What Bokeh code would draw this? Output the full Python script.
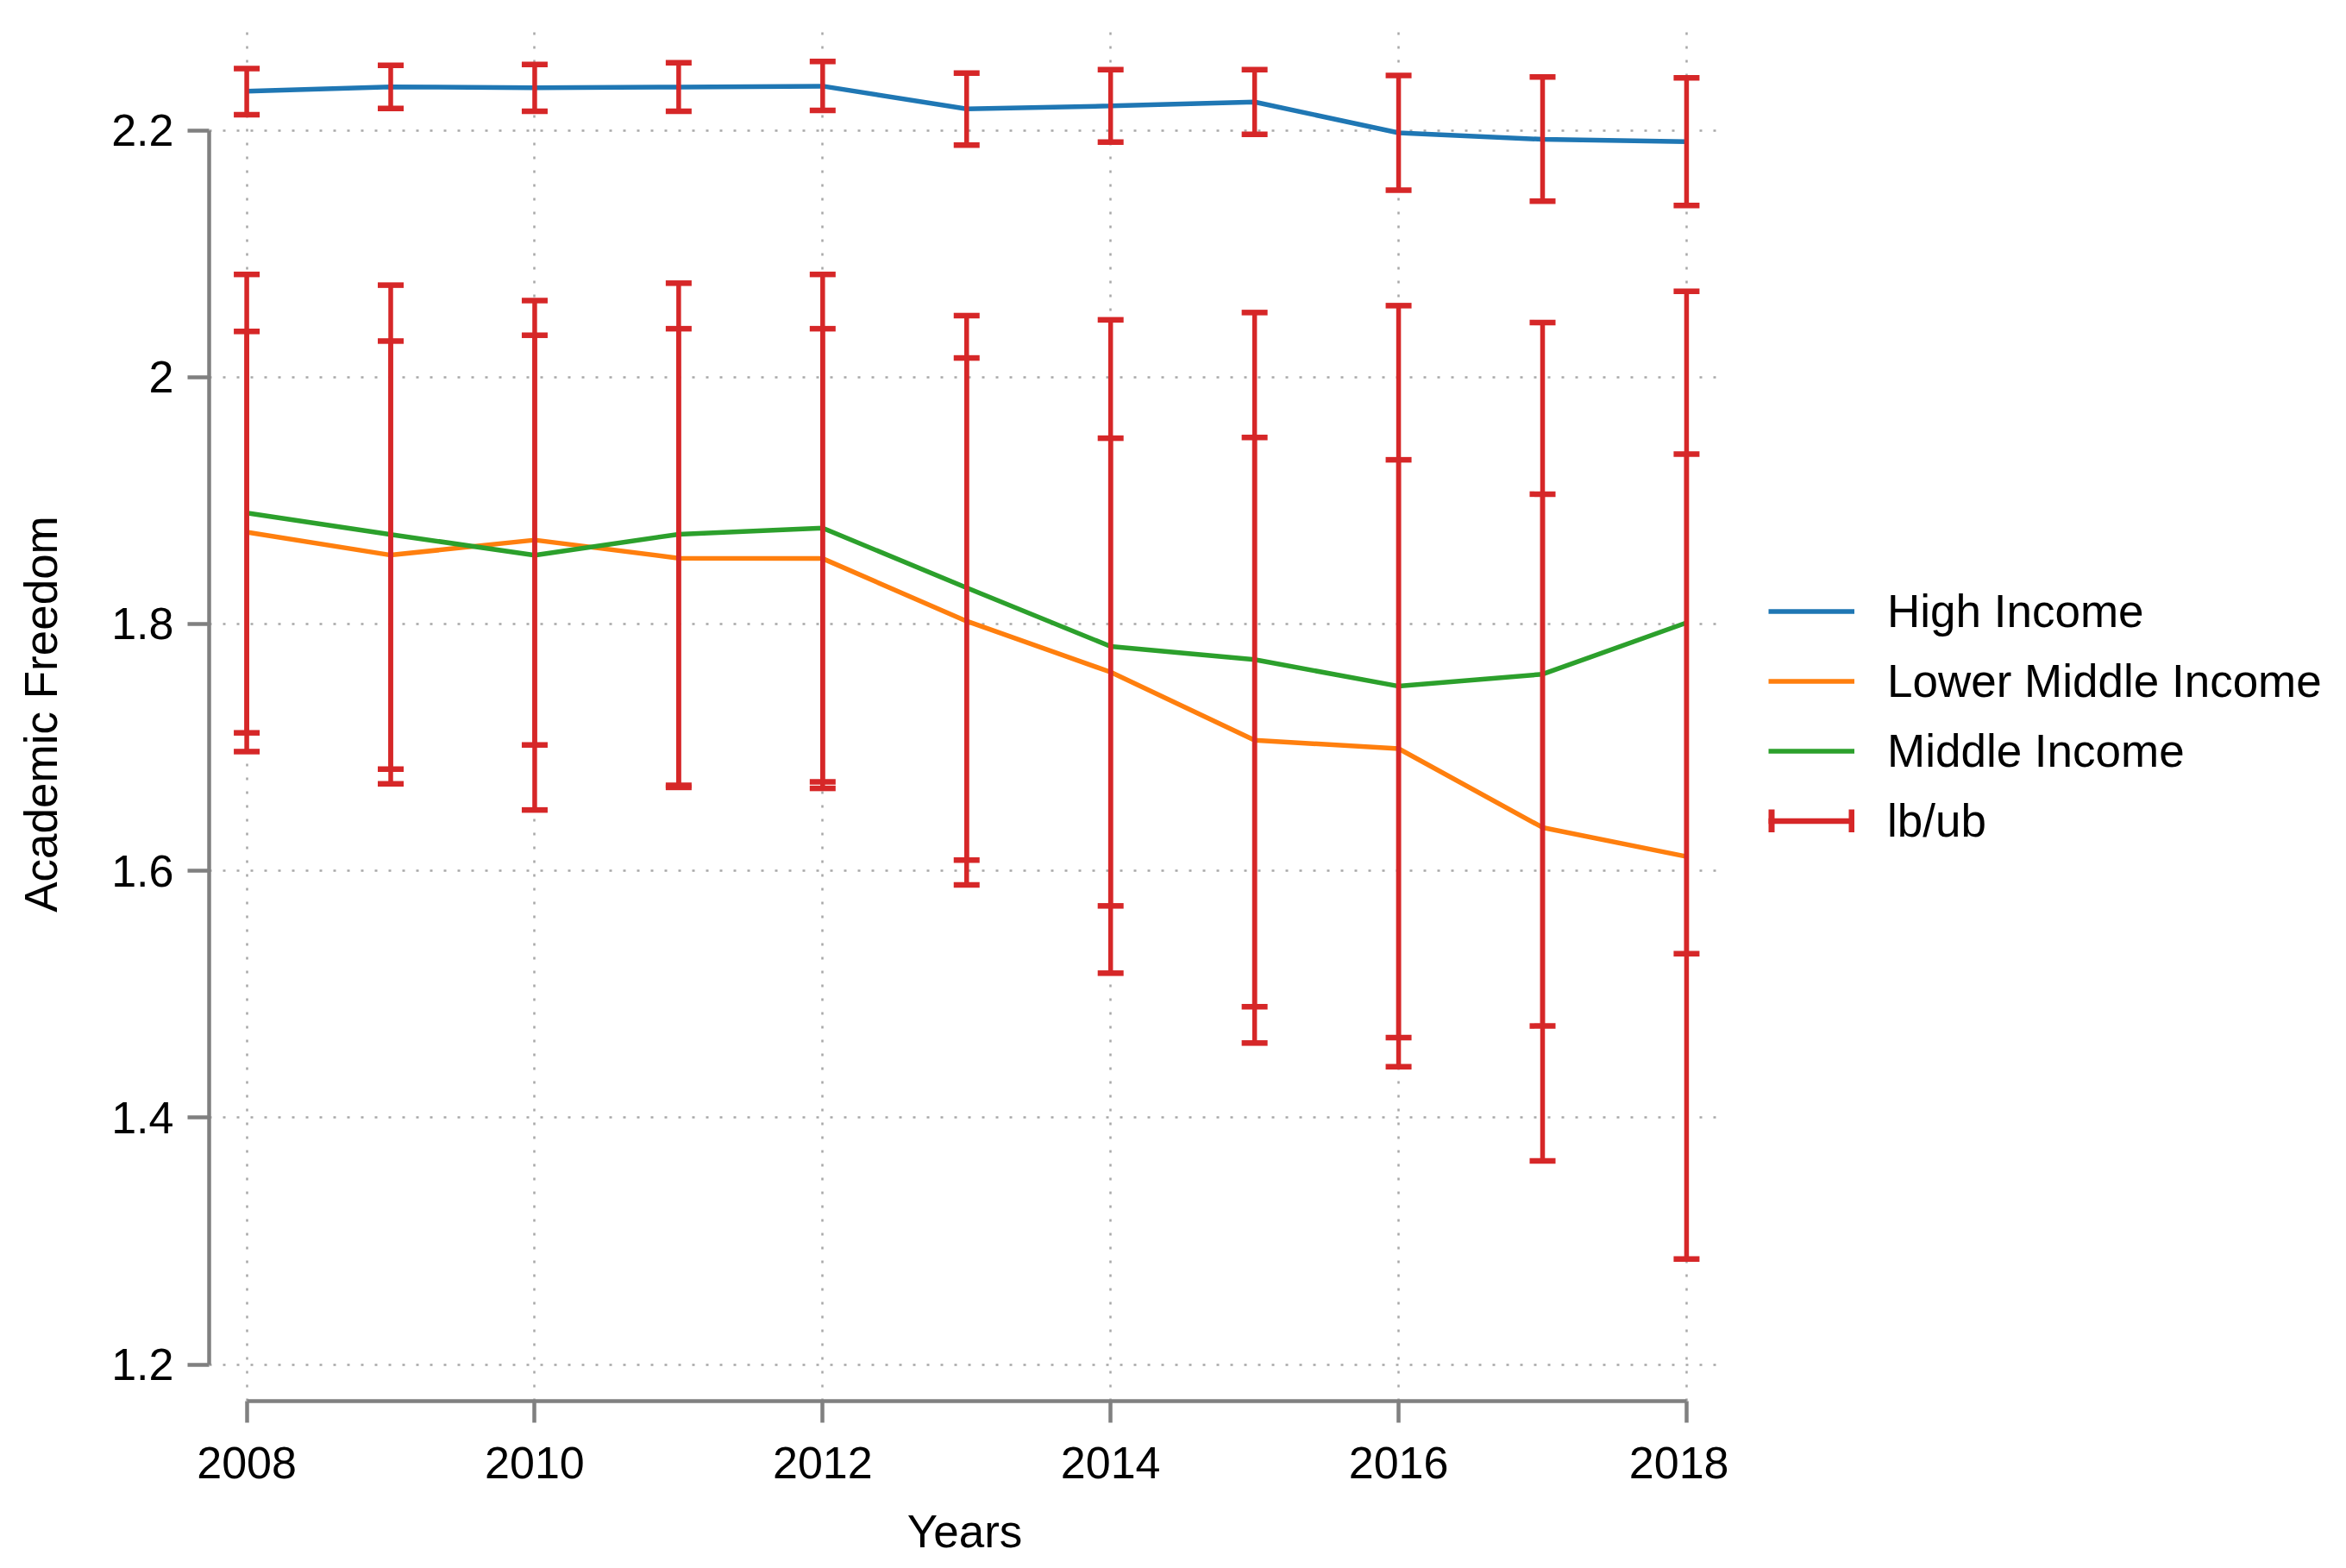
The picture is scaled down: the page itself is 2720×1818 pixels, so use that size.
import math
from bokeh.plotting import figure
from bokeh.layouts import row
from bokeh.models import (ColumnDataSource, FixedTicker, Legend, LegendItem, Range1d)
from bokeh.embed import file_html
from bokeh.resources import INLINE

# ---------------- data ----------------
years = [2008, 2009, 2010, 2011, 2012, 2013, 2014, 2015, 2016, 2017, 2018]

high_income = [2.2316, 2.2351, 2.2344, 2.2350, 2.2357, 2.2173, 2.2197, 2.2229, 2.1979, 2.1926, 2.1907]
high_lb = [2.2126, 2.2176, 2.2154, 2.2154, 2.2160, 2.1879, 2.1904, 2.1966, 2.1514, 2.1426, 2.1391]
high_ub = [2.2500, 2.2526, 2.2532, 2.2547, 2.2557, 2.2463, 2.2491, 2.2491, 2.2444, 2.2432, 2.2425]

lower_middle_income = [1.8744, 1.8558, 1.8680, 1.8533, 1.8530, 1.8023, 1.7610, 1.7058, 1.6990, 1.6351, 1.6116]
lower_middle_lb = [1.7118, 1.6824, 1.7020, 1.6676, 1.6668, 1.5886, 1.5716, 1.4605, 1.4649, 1.3650, 1.2855]
lower_middle_ub = [2.0370, 2.0292, 2.0339, 2.0392, 2.0392, 2.0155, 1.9505, 1.9511, 1.9330, 1.9052, 1.9376]

middle_income = [1.8899, 1.8725, 1.8557, 1.8727, 1.8777, 1.8293, 1.7818, 1.7711, 1.7496, 1.7593, 1.8010]
middle_lb = [1.6966, 1.6705, 1.6493, 1.6693, 1.6721, 1.6087, 1.5171, 1.4899, 1.4413, 1.4743, 1.5328]
middle_ub = [2.0832, 2.0745, 2.0620, 2.0761, 2.0832, 2.0498, 2.0464, 2.0523, 2.0579, 2.0442, 2.0695]

x_ticks = years[::2]
y_ticks = [1.2, 1.4, 1.6, 1.8, 2.0, 2.2]
y_tick_labels = ["1.2", "1.4", "1.6", "1.8", "2", "2.2"]

series_labels = ["High Income", "Lower Middle Income", "Middle Income"]
ci_label = "lb/ub"
x_title = "Years"
y_title = "Academic Freedom"

# ---------------- styles ----------------
BLUE = "#1f77b4"
ORANGE = "#ff7f0e"
GREEN = "#2ca02c"
RED = "#d62728"
AXIS_GREY = "#808080"
FONT = "Liberation Sans"
LINE_W = 5.5
BAR_W = 5.5
CAP_W = 6.5

p = figure(frame_width=1752, frame_height=1593, output_backend="svg",
           toolbar_location=None,
           x_range=Range1d(2007.739, 2018.234), y_range=Range1d(1.1704, 2.2835),
           min_border_left=242, min_border_right=10, min_border_top=31,
           min_border_bottom=178)
p.outline_line_color = None
p.background_fill_color = "white"
p.border_fill_color = "white"

# grid
for g in (p.xgrid, p.ygrid):
    g.grid_line_color = "#a8a8a8"
    g.grid_line_width = 2.5
    g.grid_line_dash = "3 13"

# axes
p.xaxis.ticker = FixedTicker(ticks=x_ticks)
p.yaxis.ticker = FixedTicker(ticks=y_ticks)
p.yaxis.major_label_overrides = dict(zip(y_ticks, y_tick_labels))
p.xaxis.bounds = (years[0], years[-1])
p.yaxis.bounds = (y_ticks[0], y_ticks[-1])
p.xaxis.axis_label = x_title
p.yaxis.axis_label = y_title
for ax in (p.xaxis, p.yaxis):
    ax.axis_line_color = AXIS_GREY
    ax.axis_line_width = 4.5
    ax.major_tick_line_color = AXIS_GREY
    ax.major_tick_line_width = 4.5
    ax.major_tick_in = 0
    ax.major_tick_out = 25
    ax.minor_tick_line_color = None
    ax.major_label_text_font = FONT
    ax.major_label_text_font_size = "52px"
    ax.major_label_text_color = "black"
    ax.axis_label_text_font = FONT
    ax.axis_label_text_font_size = "53px"
    ax.axis_label_text_font_style = "normal"
    ax.axis_label_text_color = "black"
p.xaxis.major_label_standoff = 28
p.xaxis.axis_label_standoff = 29
p.yaxis.major_label_standoff = 16
p.yaxis.axis_label_standoff = 49

# lines
p.line(years, high_income, line_color=BLUE, line_width=LINE_W)
p.line(years, lower_middle_income, line_color=ORANGE, line_width=LINE_W)
p.line(years, middle_income, line_color=GREEN, line_width=LINE_W)

# error bars (lb/ub)
err = ColumnDataSource(dict(
    x=years * 3,
    lb=high_lb + lower_middle_lb + middle_lb,
    ub=high_ub + lower_middle_ub + middle_ub,
))
p.segment(x0="x", y0="lb", x1="x", y1="ub", source=err,
          line_color=RED, line_width=BAR_W)
p.scatter(x="x", y="lb", source=err, marker="dash", size=30,
          line_color=RED, line_width=CAP_W)
p.scatter(x="x", y="ub", source=err, marker="dash", size=30,
          line_color=RED, line_width=CAP_W)

# ---------------- legend (separate panel on the right) ----------------
LEG_W = 700
LEG_H = 1802
lp = figure(width=LEG_W, height=LEG_H, output_backend="svg", toolbar_location=None,
            x_range=Range1d(0, 1), y_range=Range1d(0, 1),
            x_axis_location=None, y_axis_location=None, min_border=0)
lp.outline_line_color = None
lp.grid.visible = False
lp.background_fill_color = "white"
lp.border_fill_color = "white"

nan = [math.nan]
k_high = lp.line(nan, nan, line_color=BLUE, line_width=LINE_W)
k_lower = lp.line(nan, nan, line_color=ORANGE, line_width=LINE_W)
k_mid = lp.line(nan, nan, line_color=GREEN, line_width=LINE_W)
k_bar = lp.line(nan, nan, line_color=RED, line_width=CAP_W)
k_caps = lp.line(nan, nan, line_color=RED, line_width=27,
                 line_dash="7 86", line_cap="butt")

legend = Legend(items=[
    LegendItem(label=series_labels[0], renderers=[k_high]),
    LegendItem(label=series_labels[1], renderers=[k_lower]),
    LegendItem(label=series_labels[2], renderers=[k_mid]),
    LegendItem(label=ci_label, renderers=[k_bar, k_caps]),
], location=(46, 637), orientation="vertical")
legend.margin = 0
legend.padding = 10
legend.glyph_width = 100
legend.glyph_height = 27
legend.label_standoff = 38
legend.spacing = 20
legend.label_text_font = FONT
legend.label_text_font_size = "53px"
legend.label_text_color = "black"
legend.border_line_color = None
legend.background_fill_alpha = 0
lp.add_layout(legend, "center")

layout = row(p, lp)
open("out.html", "w").write(file_html(layout, INLINE))
